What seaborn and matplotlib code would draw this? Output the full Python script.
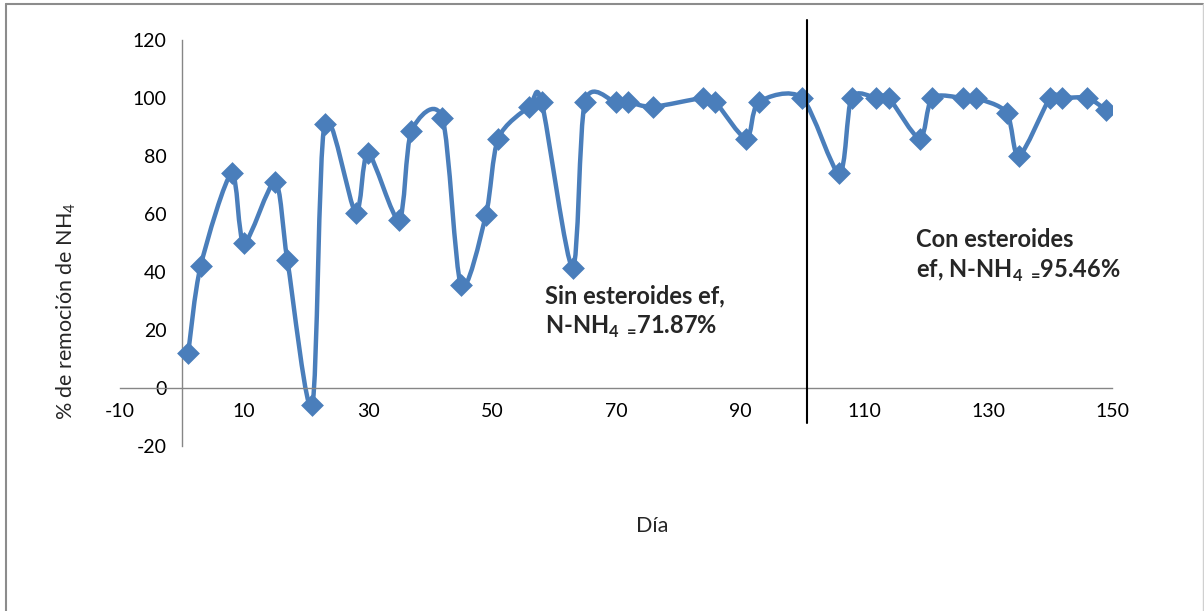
import numpy as np
import pandas as pd
import matplotlib
matplotlib.use('Agg')
import matplotlib.pyplot as plt
from matplotlib.path import Path
from matplotlib.patches import PathPatch
from matplotlib.lines import Line2D
import seaborn as sns

# datos
dias = [1, 3, 8, 10, 15, 17, 21, 23, 28, 30, 35, 37, 42, 45, 49, 51, 56, 58, 63, 65,
        70, 72, 76, 84, 86, 91, 93, 100, 106, 108, 112, 114, 119, 121, 126, 128,
        133, 135, 140, 142, 146, 149]
remocion = [12, 42, 74, 50, 71, 44, -6, 91, 60.5, 81, 58, 88.5, 93, 35.5, 59.5, 86,
            97, 98.7, 41.5, 98.7, 98.5, 98.5, 97, 100, 98.7, 86, 98.5, 100, 74, 100,
            100, 100, 86, 100, 100, 100, 95, 80, 100, 100, 100, 96]
x_ticks = [-10, 10, 30, 50, 70, 90, 110, 130, 150]
y_ticks = [-20, 0, 20, 40, 60, 80, 100, 120]
dia_corte = 100.8

df = pd.DataFrame({'Día': dias, 'remocion': remocion})

sns.set_style('white')
plt.rcParams['font.family'] = ['Lato', 'DejaVu Sans']
plt.rcParams['axes.unicode_minus'] = False
plt.rcParams['mathtext.fontset'] = 'custom'
plt.rcParams['mathtext.rm'] = 'Lato'
plt.rcParams['mathtext.bf'] = 'Lato:bold'

fig = plt.figure(figsize=(12.04, 6.11), dpi=100)
ax = fig.add_axes([120/1204, 165/611, 992/1204, 406/611])
ax.set_xlim(-10, 150)
ax.set_ylim(-20, 120)

azul = '#4A7EBB'

# linea suavizada (bezier tipo Catmull-Rom, como la linea suavizada de Excel)
pts = df[['Día', 'remocion']].values.astype(float)
n = len(pts)
k = 0.14
verts = [pts[0]]
codes = [Path.MOVETO]
for i in range(n - 1):
    p0 = pts[i - 1] if i > 0 else pts[i]
    p1 = pts[i]
    p2 = pts[i + 1]
    p3 = pts[i + 2] if i + 2 < n else pts[i + 1]
    verts += [p1 + (p2 - p0) * k, p2 - (p3 - p1) * k, p2]
    codes += [Path.CURVE4] * 3
ax.add_patch(PathPatch(Path(np.array(verts), codes), facecolor='none', edgecolor=azul,
                       lw=3.2, capstyle='round', joinstyle='round', zorder=2))

sns.scatterplot(data=df, x='Día', y='remocion', ax=ax, marker='D', s=135,
                color=azul, edgecolor=azul, linewidth=0, zorder=3, legend=False)

ax.set_xticks(x_ticks)
ax.set_yticks(y_ticks)
ax.spines['left'].set_position(('data', 0))
ax.spines['bottom'].set_position(('data', 0))
for s in ['top', 'right']:
    ax.spines[s].set_visible(False)
for s in ['left', 'bottom']:
    ax.spines[s].set_color('#868686')
    ax.spines[s].set_linewidth(1.0)
ax.tick_params(axis='both', direction='out', length=6, width=1, color='#868686',
               labelsize=14, labelcolor='black', pad=5)
ax.set_xlabel('')
ax.set_ylabel('')

# linea vertical de separacion
ax.plot([dia_corte, dia_corte], [-12, 127], color='black', lw=1.5, clip_on=False, zorder=4)

fig.text(66/1204, 1 - 311/611, r'% de remoción de NH$_\mathrm{4}$', rotation=90,
         ha='center', va='center', fontsize=15.5)
fig.text(652/1204, 1 - 526/611, 'Día', ha='center', va='center', fontsize=15.5)

fig.text(545/1204, 1 - 296/611, 'Sin esteroides ef,', ha='left', va='center',
         fontsize=17, fontweight='bold')
fig.text(545/1204, 1 - 327/611, r'N-NH$_\mathbf{4\ =}\!$71.87%', ha='left', va='center',
         fontsize=17, fontweight='bold')
fig.text(916/1204, 1 - 240/611, 'Con esteroides', ha='left', va='center',
         fontsize=17, fontweight='bold')
fig.text(916/1204, 1 - 271/611, r'ef, N-NH$_\mathbf{4\ =}\!$95.46%', ha='left', va='center',
         fontsize=17, fontweight='bold')

# marco del area del grafico
fig.add_artist(Line2D([6/1204, 6/1204], [0, 1 - 4/611], color='#8c8c8c', lw=1.5))
fig.add_artist(Line2D([6/1204, 1203/1204], [1 - 4/611, 1 - 4/611], color='#8c8c8c', lw=1.5))
fig.add_artist(Line2D([1203/1204, 1203/1204], [0, 1 - 4/611], color='#d0d0d0', lw=1.0))

fig.savefig('out.png', dpi=100)
